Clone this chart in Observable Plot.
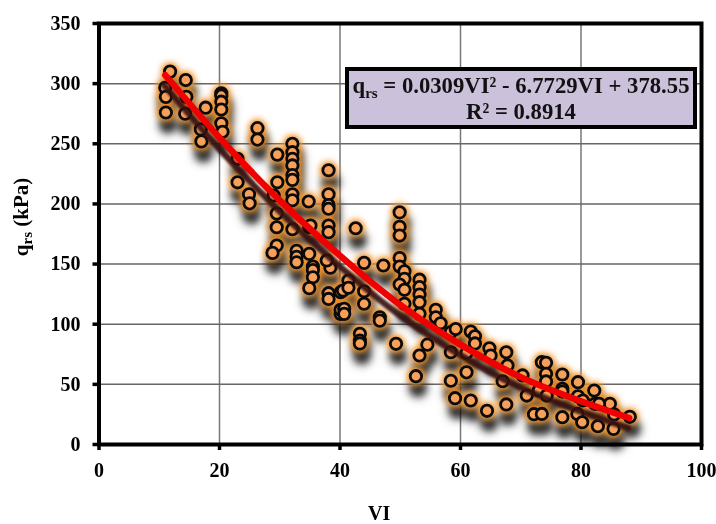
<!DOCTYPE html>
<html>
<head>
<meta charset="utf-8">
<script src="https://cdn.jsdelivr.net/npm/d3@7"></script>
<script src="https://cdn.jsdelivr.net/npm/@observablehq/plot@0.6"></script>
<style>
  html, body { margin: 0; padding: 0; background: #fff; }
  #wrap { position: relative; width: 716px; height: 524px; font-family: "Liberation Serif", serif; font-weight: bold; overflow: hidden; }
  #wrap svg { display: block; filter: blur(0.35px); }
  g[aria-label="dot"] { filter: drop-shadow(0 0 3.5px #f2962e) drop-shadow(0 0 2.5px #f2962e) drop-shadow(2.5px 12px 3px rgba(0,0,0,.8)); }
  g[aria-label="line"] { filter: drop-shadow(-1px 10px 1.2px rgba(55,16,16,.92)); }
  #eq { position: absolute; left: 345px; top: 67px; width: 344px; height: 54px; border: 4px solid #000; background: #ccc1da;
        text-align: center; font-size: 22.7px; line-height: 26px; color: #111; white-space: nowrap; padding-top: 0; filter: blur(0.3px); }
  #eq > div:first-child { margin-top: 2px; }
  #eq sub { font-size: 15px; line-height: 0; vertical-align: -5px; }
</style>
</head>
<body>
<div id="wrap"><div id="eq"><div>q<sub>rs</sub> = 0.0309VI² - 6.7729VI + 378.55</div><div>R² = 0.8914</div></div></div>
<script>
const vi = [11.8,14.4,11.0,11.1,11.1,14.5,14.3,17.7,16.9,17.0,20.3,20.3,20.3,20.3,20.3,20.5,26.3,26.3,23.0,23.0,24.9,25.0,
  29.6,29.6,29.0,32.1,32.1,32.1,32.1,32.1,32.1,32.1,32.1,34.8,38.1,38.1,38.1,38.1,38.1,38.1,29.5,29.5,32.1,34.9,
  29.5,28.8,32.8,32.8,32.8,34.9,35.5,35.5,35.5,34.9,38.1,38.1,38.4,37.8,35.1,40.1,40.1,40.1,
  42.6,49.9,49.9,49.9,49.9,49.9,50.7,50.7,49.9,50.7,50.7,53.2,53.2,53.2,53.2,53.2,44.0,47.2,44.0,44.0,40.5,41.4,41.4,40.7,40.7,46.6,46.6,
  43.3,43.3,43.3,49.3,52.6,53.2,54.5,55.9,55.9,56.7,58.4,59.2,58.4,61.7,62.4,62.4,61.0,61.0,58.4,59.1,61.7,64.8,
  64.4,67.6,65.0,67.6,67.8,67.0,70.3,71.0,73.5,74.2,74.2,74.2,76.9,76.9,76.9,79.5,79.5,80.3,82.2,82.3,84.8,85.5,88.1,
  72.2,73.5,76.9,79.4,80.2,82.8,85.4,73.0,74.3,83.0];
const q = [310,303,296.5,289,276,289,275,280,262,252,292,290,285,278.5,267,260,263,253.5,237.5,218,208,200.5,
  241,218,207,250,243,237.5,232,224,220,208,203,202,228,208,199,196,182,176.5,192,180.6,179,180.6,
  165.4,159.3,161,156,151.5,158.5,148,145,139,130,125.8,121,147,153,182,126.6,108.6,112,
  179.8,193,181,173.7,155,148,144,137.7,133,128.6,117,137,130.8,124.7,118.3,108.6,151,148.8,127.4,117,128,136.3,130.3,112.8,108.6,105.8,103,
  92,86.4,84,83.7,56.8,74,83,112,105.8,100.8,93.4,96,76.7,93.9,90,84,60,76,53,38.5,36.6,80,
  28,33.3,74,76.7,65.7,52.6,57.4,40.7,68.4,67.9,58.8,52.4,58.2,46.3,44,51.8,40,36.6,44.9,33.8,33.8,25,23,
  25.2,25.4,22.7,25.4,18.5,15.2,13,45,40.7,33.8];
const curveVi = [11,20,30,40,50,60,70,80,88];
const curveQ = [307,255,203,157,116,83,56,36,22];
const xTicks = [0,20,40,60,80,100];
const yTicks = [0,50,100,150,200,250,300,350];
const points = vi.map((v,i)=>({v, q:q[i]}));
const curve = curveVi.map((v,i)=>({v, q:curveQ[i]}));
const tickStyle = {fontSize:20, fontFamily:"Liberation Serif", fontWeight:"bold"};

const chart = Plot.plot({
  width:716, height:524, marginLeft:98.5, marginRight:15, marginTop:23, marginBottom:80,
  style:{background:"#fff", fontFamily:"Liberation Serif", fontWeight:"bold", color:"#000"},
  x:{domain:[0,100], label:null},
  y:{domain:[0,350], label:null},
  marks:[
    Plot.ruleX(xTicks,{stroke:"#777", strokeWidth:1.5}),
    Plot.ruleY(yTicks,{stroke:"#666", strokeWidth:1.5}),
    Plot.dot(points,{x:"v", y:"q", r:5.7, fill:"#f6a05a", fillOpacity:1, stroke:"#0a0a0a", strokeWidth:2.8}),
    Plot.line(curve,{x:"v", y:"q", curve:"natural", stroke:"#f00000", strokeWidth:6.5}),
    Plot.frame({stroke:"#000", strokeWidth:4}),
    Plot.axisX({ticks:xTicks, tickSize:6, strokeWidth:3.5, tickPadding:12, ...tickStyle, label:null}),
    Plot.axisY({ticks:yTicks, tickSize:6, strokeWidth:3.5, tickPadding:12.5, ...tickStyle, label:null}),
    Plot.text(["VI"],{frameAnchor:"bottom", x:()=>46.5, dy:75, fontSize:20, fontWeight:"bold"})
  ]
});
document.getElementById("wrap").prepend(chart);

const yl = d3.select(chart).append("text")
  .attr("transform","translate(28,217) rotate(-90)")
  .attr("text-anchor","middle")
  .attr("font-size",21).attr("font-weight","bold");
yl.append("tspan").text("q");
yl.append("tspan").attr("font-size",15).attr("dy",4).text("rs");
yl.append("tspan").attr("dy",-4).text(" (kPa)");
</script>
</body>
</html>
